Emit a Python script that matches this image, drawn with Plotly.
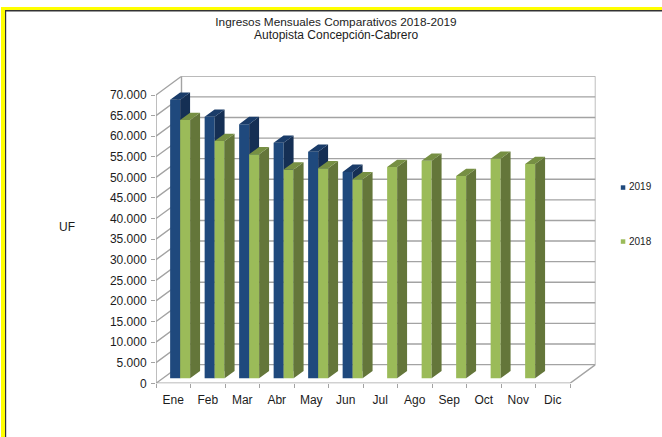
import plotly.graph_objects as go

months = ["Ene", "Feb", "Mar", "Abr", "May", "Jun", "Jul", "Ago", "Sep", "Oct", "Nov", "Dic"]
v2019 = [67600, 63500, 61700, 57200, 55000, 50100, None, None, None, None, None, None]
v2018 = [62700, 57600, 54400, 50700, 51000, 48300, 51300, 52800, 49100, 53300, 52000, None]
y_ticks = list(range(0, 70001, 5000))
y_labels = ["0", "5.000", "10.000", "15.000", "20.000", "25.000", "30.000", "35.000",
            "40.000", "45.000", "50.000", "55.000", "60.000", "65.000", "70.000"]

W, H = 662, 437
CAT_PX = 34.5
X0_PX, Y0_PX, Y70_PX = 156.0, 383.3, 95.0
UNIT_PER_PX = 70000 / (Y0_PX - Y70_PX)
DEPTH_X = 25.5 / CAT_PX
DEPTH_Y = 18.7 * UNIT_PER_PX
Z_FRONT, Z_BACK = 0.27, 0.66
BAR_W = 10.0 / CAT_PX
GRID = "#A3A3A3"
TXT = "#1c1c1c"
FONT = "Liberation Sans"
N = len(months)
XMAX = N + DEPTH_X
YMAX = 70000 + DEPTH_Y


def add_series(fig, values, slot, xa, ya, front, side, top):
    cx, cy, sx, sy, tx, ty = [], [], [], [], [], []
    base = Z_FRONT * DEPTH_Y
    dz = Z_BACK - Z_FRONT
    dx, dy = dz * DEPTH_X, dz * DEPTH_Y
    gap = (1 - 2 * BAR_W) / 2
    for i, v in enumerate(values):
        if v is None:
            continue
        left = i + gap + slot * BAR_W + Z_FRONT * DEPTH_X
        right = left + BAR_W
        h = base + v
        cx.append(left + BAR_W / 2)
        cy.append(v)
        sx += [right, right + dx, right + dx, right, right, None]
        sy += [base, base + dy, h + dy, h, base, None]
        tx += [left, right, right + dx, left + dx, left, None]
        ty += [h, h, h + dy, h + dy, h, None]
    fig.add_trace(go.Bar(x=cx, y=cy, base=base, width=BAR_W, marker=dict(color=front, line=dict(width=0)),
                         xaxis=xa, yaxis=ya, showlegend=False, hoverinfo="y"))
    for px_, py_, col in ((sx, sy, side), (tx, ty, top)):
        fig.add_trace(go.Scatter(x=px_, y=py_, mode="lines", fill="toself", fillcolor=col,
                                 line=dict(width=0, color=col), xaxis=xa, yaxis=ya,
                                 showlegend=False, hoverinfo="skip"))


fig = go.Figure()

# Walls and floor
wx, wy = [], []
for t in y_ticks:
    wx += [0, DEPTH_X, XMAX, None]
    wy += [t, t + DEPTH_Y, t + DEPTH_Y, None]
wx += [DEPTH_X, DEPTH_X, None, XMAX, XMAX, None, 0, 0, None, 0, N, XMAX, None]
wy += [DEPTH_Y, YMAX, None, DEPTH_Y, YMAX, None, 0, 70000, None, 0, 0, DEPTH_Y, None]
fig.add_trace(go.Scatter(x=wx, y=wy, mode="lines", line=dict(color=GRID, width=1.4),
                         cliponaxis=False, showlegend=False, hoverinfo="skip"))

add_series(fig, v2019, 0, "x2", "y2", "#1F497D", "#152F54", "#1A3C69")
add_series(fig, v2018, 1, "x3", "y3", "#9BBB59", "#64763A", "#768F43")

xdom = [X0_PX / W, (X0_PX + XMAX * CAT_PX) / W]
ydom = [(H - Y0_PX) / H, (H - Y0_PX + YMAX / UNIT_PER_PX) / H]
font = dict(family=FONT, size=12, color=TXT)

fig.update_layout(
    width=W, height=H, autosize=False, margin=dict(l=0, r=0, t=0, b=0, pad=0),
    paper_bgcolor="white", plot_bgcolor="white", barmode="overlay", showlegend=False,
    font=font,
    title=dict(text="Ingresos Mensuales Comparativos 2018-2019", x=336 / W, xanchor="center",
               y=(H - 21.5) / H, yanchor="middle", font=dict(family=FONT, size=11.8, color=TXT)),
    xaxis=dict(domain=xdom, range=[0, XMAX], tickmode="array", tickvals=list(range(N + 1)),
               ticks="outside", ticklen=4, tickcolor=GRID, tickwidth=1, showticklabels=False,
               showgrid=False, zeroline=False, showline=False, automargin=False),
    yaxis=dict(domain=ydom, range=[0, YMAX], tickmode="array", tickvals=y_ticks, ticktext=y_labels,
               ticks="outside", ticklen=4, tickcolor=GRID, tickwidth=1, tickfont=font,
               ticklabelstandoff=2,
               showgrid=False, zeroline=False, showline=False, automargin=False),
    xaxis2=dict(overlaying="x", anchor="y2", range=[0, XMAX], tickmode="array",
                tickvals=[i + 0.5 for i in range(N)], ticktext=months, ticks="outside", ticklen=5,
                tickcolor="rgba(0,0,0,0)", tickfont=font, showgrid=False, zeroline=False, showline=False,
                automargin=False),
    yaxis2=dict(overlaying="y", anchor="x2", range=[0, YMAX], visible=False, automargin=False),
    xaxis3=dict(overlaying="x", anchor="y3", range=[0, XMAX], visible=False, automargin=False),
    yaxis3=dict(overlaying="y", anchor="x3", range=[0, YMAX], visible=False, automargin=False),
)


def px(x):
    return x / W


def py(y):
    return (H - y) / H


annos = [("Autopista Concepción-Cabrero", 336, 35, "center", 12),
         ("UF", 67, 227, "center", 12),
         ("2019", 626.5, 187, "left", 10),
         ("2018", 626.5, 241, "left", 10)]
fig.update_layout(annotations=[
    dict(text=t, x=px(x), y=py(y), xref="paper", yref="paper", xanchor=a, yanchor="middle",
         showarrow=False, font=dict(family=FONT, size=s, color=TXT), xshift=0)
    for t, x, y, a, s in annos])


def rect(x0, y0, x1, y1, col):
    return dict(type="rect", xref="paper", yref="paper", x0=px(x0), x1=px(x1), y0=py(y0), y1=py(y1),
                fillcolor=col, line=dict(width=0), layer="above")


fig.update_layout(shapes=[
    rect(1, 7, 662, 10, "#FFFF00"),
    rect(1, 7, 5, 437, "#FFFF00"),
    rect(5, 10, 662, 11.5, "#333333"),
    rect(5, 10, 6.2, 437, "#333333"),
    rect(620.8, 185.3, 625.3, 189.8, "#1F497D"),
    rect(620.8, 239.3, 625.3, 243.8, "#9BBB59"),
])

fig.write_html("out.html", config={"displayModeBar": False},
               post_script="document.body.style.margin='0';document.body.style.overflow='hidden';")
